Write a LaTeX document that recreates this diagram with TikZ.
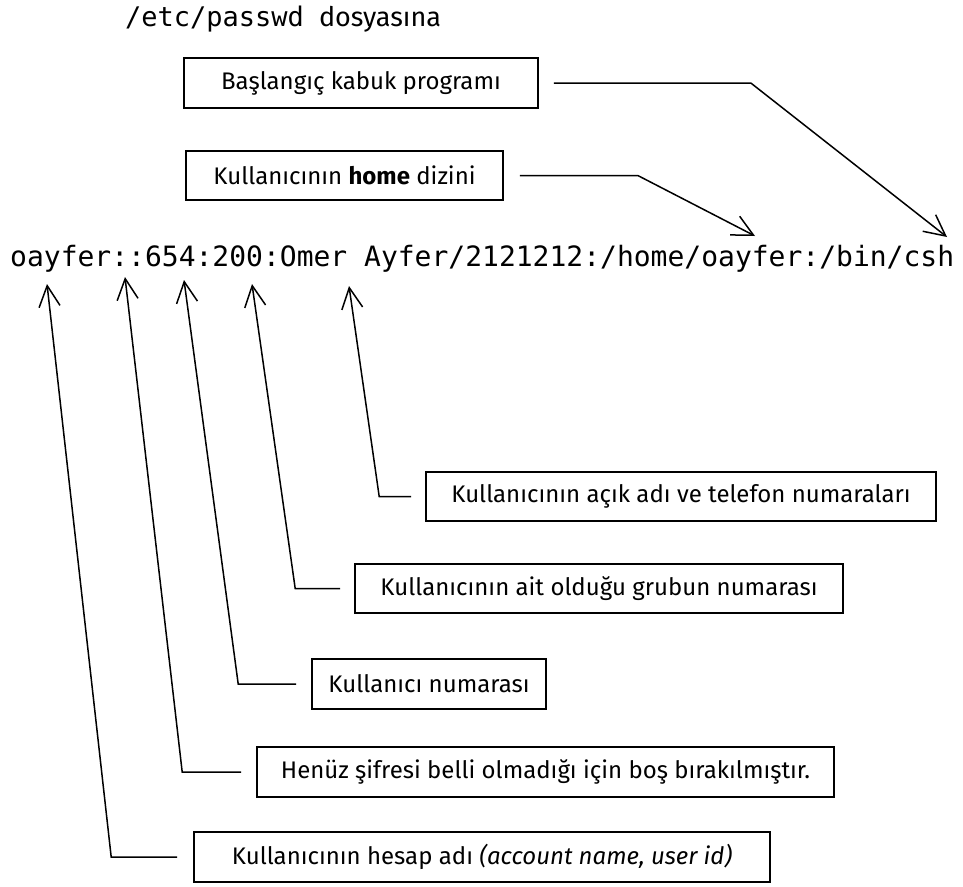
\documentclass[tikz,border=0pt]{standalone}
\usepackage{fontspec}
\setmainfont{Fira Sans}
\newfontfamily\monofont{DejaVu Sans Mono}
\usetikzlibrary{arrows.meta}
\begin{document}
\begin{tikzpicture}[x=1pt,y=-1pt,
  lbl/.style={draw, line width=1.6pt, inner sep=0pt, font=\fontsize{24}{28}\selectfont},
  ptr/.style={-{Straight Barb[length=21pt,width=21pt]}, line width=1.5pt, line join=miter}]
\useasboundingbox (0,0) rectangle (963,886);

% title and record line
\node[anchor=base west, inner sep=0pt] (title) at (125,26)
  {{\monofont\fontsize{27}{30}\selectfont /etc/passwd}\hspace{15pt}{\fontsize{27}{30}\selectfont dosyasına}};
\node[anchor=base west, inner sep=0pt, font=\monofont\fontsize{28}{32}\selectfont] (rec) at (10,266)
  {oayfer::654:200:Omer Ayfer/2121212:/home/oayfer:/bin/csh};

% arrow tip points
\coordinate (tcsh) at (947,237);
\coordinate (thome) at (755,236);
\coordinate (t1) at (47,284);
\coordinate (t2) at (125,277);
\coordinate (t3) at (184,280);
\coordinate (t4) at (252,284);
\coordinate (t5) at (349,286);

% label boxes
\node[lbl, minimum width=354pt, minimum height=50pt] (shell) at (361,83) {Başlangıç kabuk programı};
\node[lbl, minimum width=317pt, minimum height=49pt] (home) at (344.5,175.5) {Kullanıcının \textbf{home} dizini};
\node[lbl, minimum width=510pt, minimum height=49pt] (acik) at (681,496.5) {Kullanıcının açık adı ve telefon numaraları};
\node[lbl, minimum width=488pt, minimum height=49pt] (grup) at (599,588.5) {Kullanıcının ait olduğu grubun numarası};
\node[lbl, minimum width=234pt, minimum height=50pt] (uid) at (429,684) {Kullanıcı numarası};
\node[lbl, minimum width=577pt, minimum height=50pt] (pass) at (545.5,772) {Henüz şifresi belli olmadığı için boş bırakılmıştır.};
\node[lbl, minimum width=576pt, minimum height=50pt] (acct) at (482,857) {Kullanıcının hesap adı \textit{(account name, user id)}};

% connectors
\draw[ptr] ([xshift=15pt]shell.east) -- ([xshift=212pt]shell.east) -- (tcsh);
\draw[ptr] ([xshift=16pt]home.east) -- ([xshift=134pt]home.east) -- (thome);
\draw[ptr] ([xshift=-14pt]acik.west) -- ([xshift=-46pt]acik.west) -- (t5);
\draw[ptr] ([xshift=-14pt]grup.west) -- ([xshift=-59pt]grup.west) -- (t4);
\draw[ptr] ([xshift=-15pt]uid.west) -- ([xshift=-73pt]uid.west) -- (t3);
\draw[ptr] ([xshift=-15pt]pass.west) -- ([xshift=-74pt]pass.west) -- (t2);
\draw[ptr] ([xshift=-16pt]acct.west) -- ([xshift=-82pt]acct.west) -- (t1);
\end{tikzpicture}
\end{document}
